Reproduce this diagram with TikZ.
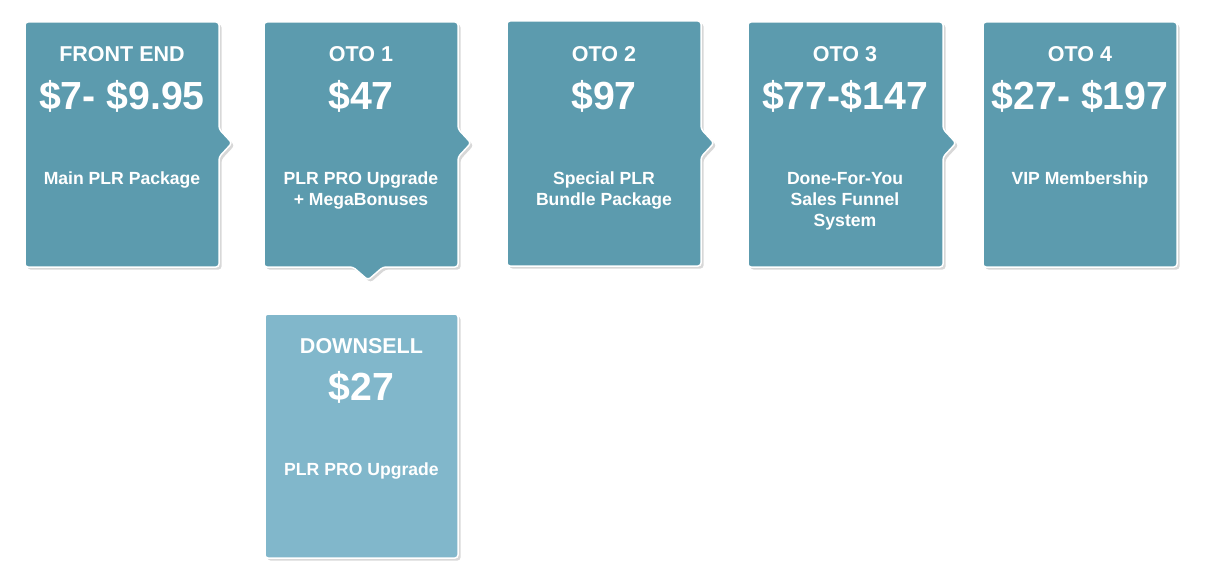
\documentclass[tikz,border=0pt]{standalone}
\usepackage{fontspec}
\setmainfont{Liberation Sans}
\definecolor{tealA}{HTML}{5C9BAE}
\definecolor{tealB}{HTML}{81B7CB}
\tikzset{
  card/.style={fill=#1, draw=white, line width=1.5pt, rounded corners=3pt,
    preaction={draw=none, fill=black!70, fill opacity=0.22,
      transform canvas={xshift=2.5pt,yshift=-2.5pt}}},
  ttl/.style={text=white, font=\bfseries\fontsize{21.5}{25}\selectfont, anchor=base, inner sep=0pt},
  price/.style={text=white, font=\bfseries\fontsize{39.2}{45}\selectfont, anchor=base, inner sep=0pt},
  sub/.style={text=white, font=\bfseries\fontsize{17.6}{21.3}\selectfont, anchor=base, align=center, inner sep=0pt},
}
\begin{document}
\begin{tikzpicture}[x=1pt,y=-1pt]
\useasboundingbox (0,0) rectangle (1205,578);
% FRONT END
\path[card=tealA] (25,22) -- (219,22) -- (219,129) -- (232,143) -- (219,157) -- (219,267) -- (25,267) -- cycle;
\node[ttl] (fe-t) at (122,62) {FRONT END};
\node[price] (fe-p) at (122,109) {\$7- \$9.95};
\node[sub] (fe-s) at (122,184) {Main PLR Package};
% OTO 1
\path[card=tealA] (264,22) -- (458,22) -- (458,129) -- (471,143) -- (458,157) -- (458,267) -- (383,267) -- (368,280) -- (353,267) -- (264,267) -- cycle;
\node[ttl] (o1-t) at (361,62) {OTO 1};
\node[price] (o1-p) at (361,109) {\$47};
\node[sub] (o1-s) at (361,205.3) {PLR PRO Upgrade\\+ MegaBonuses};
% OTO 2
\path[card=tealA] (507,21) -- (701,21) -- (701,129) -- (714,143) -- (701,157) -- (701,266) -- (507,266) -- cycle;
\node[ttl] (o2-t) at (604,62) {OTO 2};
\node[price] (o2-p) at (604,109) {\$97};
\node[sub] (o2-s) at (604,205.3) {Special PLR\\Bundle Package};
% OTO 3
\path[card=tealA] (748,22) -- (943,22) -- (943,129) -- (956,143) -- (943,157) -- (943,267) -- (748,267) -- cycle;
\node[ttl] (o3-t) at (845,62) {OTO 3};
\node[price] (o3-p) at (845,109) {\$77-\$147};
\node[sub] (o3-s) at (845,226.6) {Done-For-You\\Sales Funnel\\System};
% OTO 4
\path[card=tealA] (983,22) rectangle (1177,267);
\node[ttl] (o4-t) at (1080,62) {OTO 4};
\node[price] (o4-p) at (1080,109) {\$27- \$197};
\node[sub] (o4-s) at (1080,184) {VIP Membership};
% DOWNSELL
\path[card=tealB] (265,314) rectangle (458,558);
\node[ttl] (ds-t) at (361.5,353) {DOWNSELL};
\node[price] (ds-p) at (361.5,400) {\$27};
\node[sub] (ds-s) at (361.5,475) {PLR PRO Upgrade};
\end{tikzpicture}
\end{document}
